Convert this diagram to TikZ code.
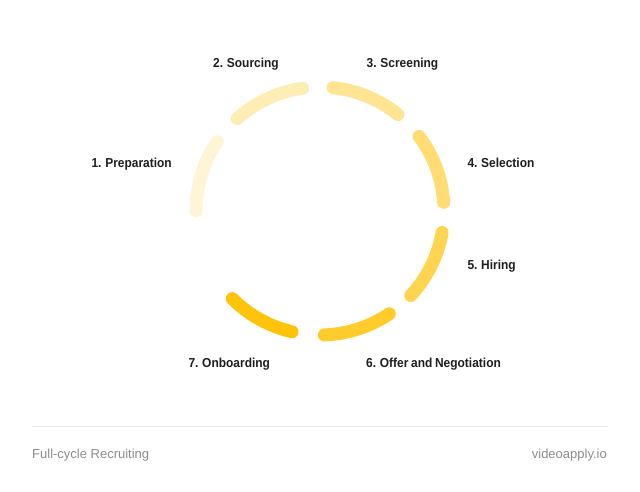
\documentclass[tikz,border=0pt]{standalone}
\usepackage{fontspec}
\setmainfont{Liberation Sans}
\newfontfamily\stagefont[FakeStretch=0.92, WordSpace=0.8]{Liberation Sans}
\usetikzlibrary{calc}
\definecolor{ringa}{HTML}{FFF4D6}
\definecolor{ringb}{HTML}{FFEDB6}
\definecolor{ringc}{HTML}{FFE494}
\definecolor{ringd}{HTML}{FFDC74}
\definecolor{ringe}{HTML}{FFD450}
\definecolor{ringf}{HTML}{FFCC2C}
\definecolor{ringg}{HTML}{FFC30A}
\definecolor{labeltext}{HTML}{1E1E1E}
\definecolor{foottext}{HTML}{8C8C8C}
\definecolor{rule}{HTML}{E9E9E9}
\tikzstyle{ring} = [line width=13pt, line cap=round]
\tikzstyle{stage} = [inner sep=0pt, anchor=base west, text=labeltext, font=\stagefont\bfseries\fontsize{13}{15}\selectfont]
\tikzstyle{foot} = [inner sep=0pt, anchor=base west, text=foottext, font=\fontsize{13}{15}\selectfont]

\begin{document}
\begin{tikzpicture}[x=1pt, y=1pt]
\useasboundingbox (0,0) rectangle (640,492);
\coordinate (hub) at (320,281);

% the cycle, one arc per stage
\draw [ring, ringa] ($(hub)+(180:124)$) arc [start angle=180, end angle=146, radius=124];
\draw [ring, ringb] ($(hub)+(132:124)$) arc [start angle=132, end angle=98, radius=124];
\draw [ring, ringc] ($(hub)+(84:124)$) arc [start angle=84, end angle=51, radius=124];
\draw [ring, ringd] ($(hub)+(37:124)$) arc [start angle=37, end angle=4, radius=124];
\draw [ring, ringe] ($(hub)+(-10:124)$) arc [start angle=-10, end angle=-43, radius=124];
\draw [ring, ringf] ($(hub)+(-56:124)$) arc [start angle=-56, end angle=-88, radius=124];
\draw [ring, ringg] ($(hub)+(-103:124)$) arc [start angle=-103, end angle=-135, radius=124];

\node (preparation) [stage, anchor=base east] at (172,324.5) {1. Preparation};
\node (sourcing) [stage] at (213,424.3) {2. Sourcing};
\node (screening) [stage] at (366.5,424.3) {3. Screening};
\node (selection) [stage] at (467.3,324.5) {4. Selection};
\node (hiring) [stage] at (467.3,222) {5. Hiring};
\node (offer) [stage] at (366,124.3) {6. Offer and Negotiation};
\node (onboarding) [stage] at (188.3,124.3) {7. Onboarding};

% footer
\draw [rule, line width=1pt] (31.5,65) -- (608,65);
\node (title) [foot] at (32,33.5) {Full-cycle Recruiting};
\node (site) [foot, anchor=base east] at (607,33.5) {videoapply.io};

\end{tikzpicture}
\end{document}
